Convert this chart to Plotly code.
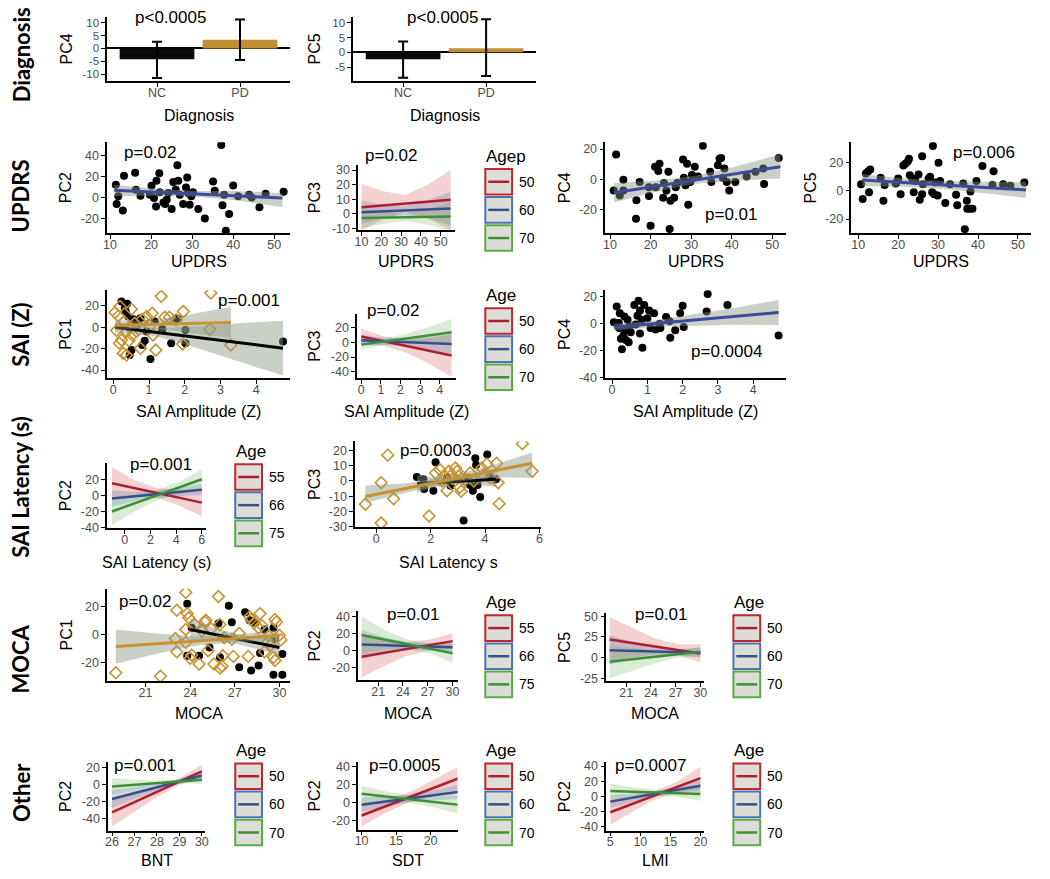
import plotly.graph_objects as go

# ============================ DATA ============================
# --- Row 1: Diagnosis (bar + error bars)
diag_groups = ["NC", "PD"]
diag_pc4_mean = [-4.2, 3.4]
diag_pc4_err_up = [6.8, 7.9]
diag_pc4_err_down = [7.3, 7.9]
diag_pc5_mean = [-2.3, 1.4]
diag_pc5_err_up = [6.0, 9.8]
diag_pc5_err_down = [6.3, 9.4]
diag_pc4_yticks = [-10, -5, 0, 5, 10]
diag_pc5_yticks = [-5, 0, 5, 10]

# --- Row 2: UPDRS
updrs_pc2_x = [11.4, 11.6, 12, 13.1, 13.4, 16.1, 16.3, 17.4, 19.7, 20.1, 20.7, 21.2, 21.3, 22, 22.1, 23,
               23.4, 23.8, 24.2, 25, 25.4, 26, 26.4, 26.6, 27, 27.8, 28.5, 28.8, 29, 29.4, 29.8, 30.2,
               31.5, 33.1, 35.1, 35.5, 37.1, 37.4, 37.8, 38.2, 39, 40, 41.2, 43.9, 44.5, 46.4, 47.9, 52.3]
updrs_pc2_y = [12, -6.3, 1, -12.4, 20.6, 23.5, 7.3, 1.6, 2.5, 11, -0.6, -8.6, 15.9, 23, 4.8, -4.8,
               -6.3, -2.2, 4.1, -11, 14.6, 7.3, 30.5, 15.9, 2.5, -6.3, 9.5, 19, 4.1, -7, 1, 5,
               -11, -20, 15.2, 6.3, 50, -7.6, 2.5, -31.7, -15.9, 11.4, 1, 2.5, 0, -9.5, 3.5, 5.4]
updrs_pc2_grid = [11, 21, 31, 41, 52]
updrs_pc2_fit = [6.7, 5.0, 3.3, 1.5, -0.6]
updrs_pc2_lo = [1, 1.5, 0.5, -3, -9.5]
updrs_pc2_hi = [12, 8.5, 6, 6, 4]

updrs_pc3_ages = ["50", "60", "70"]
updrs_pc3_grid = [10, 21, 32, 43, 55]
updrs_pc3_fit = [[4.5, 5.7, 6.9, 8.2, 9.5], [1, 1.6, 2.2, 2.9, 3.5], [-3, -2.75, -2.5, -2.25, -2]]
updrs_pc3_lo = [[-11.5, -4, 1, -3, -11], [-7, -3, -1, -3, -8], [-10, -7, -5, -7.5, -12]]
updrs_pc3_hi = [[20.5, 15.5, 12.8, 19.5, 30], [9, 6, 5.4, 9, 15], [4, 1.5, 0, 3, 8]]

updrs_pc4_x = [10.9, 11.5, 12.4, 13.3, 13.3, 16.4, 16.5, 17.3, 19.6, 19.6, 20, 21.1, 21.3, 21.9, 22.2,
               23.1, 23.3, 23.9, 24.4, 24.7, 24.9, 25.8, 26.2, 26.6, 28, 28.2, 28.6, 29, 29.3, 29.8,
               30.2, 30.9, 31.7, 32.9, 34.7, 35, 36.6, 37, 37.4, 37.8, 38.2, 38.8, 39.4, 40.9, 43.7,
               45.9, 47.8, 48, 51.6]
updrs_pc4_y = [-7.5, 16.3, -10.8, -0.4, -7.5, -26.2, -14, -1.9, -5.4, -11.2, -31, 8.2, -5.4, 5.4, 10.3,
               -12.3, -2.6, -7.5, 5, -33, -14.4, -12.3, -5.4, -2.6, 13.1, 1, -4.1, 10.3, -17, -1.9,
               2.8, 8.2, 1.7, 22.2, 5, -1.9, 9.2, 13.5, 14, 1, 7, -1.9, -7.5, -1.9, 1.7,
               5, 7, -3.2, 14]
updrs_pc4_grid = [11, 21, 31, 41, 52]
updrs_pc4_fit = [-9, -4.8, -0.6, 3.7, 8.3]
updrs_pc4_lo = [-15.5, -8.5, -3, -1, 0.5]
updrs_pc4_hi = [-2.5, -1, 2.2, 8.4, 16.5]

updrs_pc5_x = [10.7, 11.1, 11.9, 12.5, 12.7, 13, 15.6, 16.3, 16.6, 19.4, 19.8, 20, 20.6, 21.3, 21.8,
               22.4, 22.7, 22.9, 23.5, 23.9, 24.3, 25.1, 25.4, 26, 26, 26.2, 27.6, 28, 28.5, 28.7,
               29, 29.3, 29.9, 30.1, 30.5, 31.8, 33, 34.5, 34.8, 36.3, 36.7, 37.2, 37.3, 38, 38.6,
               38.1, 39.6, 41.1, 43.6, 43.9, 46.3, 48.1, 51.6]
updrs_pc5_y = [4.7, -5.8, 12.3, 14, -0.9, 15.3, 9.3, -7, 4.2, 5.3, 7, 8.8, -2.3, 18, 19.3,
               21, 22.8, 11.2, 8.8, -0.9, 7, 11.6, -6.3, -2.3, 24.7, 4.7, 8.8, 10, -0.9, 32,
               -2.3, 6, -3.3, 20, 7, -8.6, 4.7, -2.8, -10.2, 5.3, -27.2, -7, -12.6, -12.6, -12.6,
               -0.5, 7, 17.7, 4.2, 14, 4.7, 3.7, 6]
updrs_pc5_grid = [11, 21, 31, 41, 52]
updrs_pc5_fit = [7.7, 6, 4.3, 2.6, 0.7]
updrs_pc5_lo = [3.5, 3, 1.5, -1.5, -5]
updrs_pc5_hi = [12, 9, 7, 6.5, 6.5]
updrs_xticks = [10, 20, 30, 40, 50]

# --- Row 3: SAI amplitude (Z)
saiz_pc1_nc_x = [0.23, 0.32, 0.39, 0.35, 0.42, 0.46, 0.51, 0.56, 0.65, 0.69, 0.76, 0.81, 0.88, 0.93,
                 1.04, 1.16, 1.37, 1.62, 1.76, 1.81, 2.02, 2.02, 4.75]
saiz_pc1_nc_y = [24, 17.8, 21.9, 14.7, 10, -26, -21.3, 7.5, 0.6, 5.3, 8.4, -16.6, -12.5, -4,
                 -29.7, 5.3, -1.9, -15, 8.4, 7.5, -2.5, -15, -13.4]
saiz_pc1_pd_x = [0.05, 0.14, 0.19, 0.09, 0.17, 0.23, 0.3, 0.37, 0.44, 0.46, 0.51, 0.54, 0.6, 0.65,
                 0.76, 0.81, 0.93, 1.02, 1.09, 1.11, 1.19, 1.34, 1.44, 1.57, 1.76, 1.96, 1.94, 2.73,
                 2.7, 3.29, 0.28, 0.37]
saiz_pc1_pd_y = [13.8, 10.6, 19.4, -3.1, -15, -11.9, 5.3, -4, -12.5, 0, 16.9, -7.2, 3.8, -4,
                 -19.7, 7.5, 10, 1.3, 13.1, -7.2, -21.3, 28.8, 9.4, 9.4, 6.9, 14.7, -15.6, 31.9,
                 -1.9, -16.6, -24.4, -26]
saiz_pc1_nc_grid = [0.05, 1.2, 2.4, 3.6, 4.75]
saiz_pc1_nc_fit = [0, -4.7, -9.6, -14.5, -19.5]
saiz_pc1_nc_lo = [-5, -8.5, -20, -33, -45]
saiz_pc1_nc_hi = [5, -1, 1, 4, 6]
saiz_pc1_pd_grid = [0.05, 0.85, 1.65, 2.45, 3.29]
saiz_pc1_pd_fit = [1.8, 2.4, 3, 3.7, 4.4]
saiz_pc1_pd_lo = [-3, -1, -3, -7, -10]
saiz_pc1_pd_hi = [6.5, 5.8, 9, 14, 18.8]

saiz_pc3_ages = ["50", "60", "70"]
saiz_pc3_grid = [0, 1.15, 2.3, 3.45, 4.6]
saiz_pc3_fit = [[8, 1.5, -5, -11.5, -18], [3, 1.7, 0.5, -0.7, -2], [-3, 1.2, 5.5, 9.7, 14]]
saiz_pc3_lo = [[-3, -5, -14, -29, -47], [-4, -3, -5, -10, -16], [-10, -3, -1, -2, -4]]
saiz_pc3_hi = [[19, 8, 4, 6, 11], [10, 6.5, 6, 8.5, 12], [4, 5.5, 12, 21, 32]]

saiz_pc4_x = [0.05, 0.13, 0.19, 0.22, 0.2, 0.25, 0.28, 0.32, 0.35, 0.37, 0.39, 0.44, 0.47, 0.49, 0.53,
              0.63, 0.67, 0.72, 0.75, 0.79, 0.84, 0.79, 0.86, 0.91, 1.0, 1.05, 1.09, 1.19, 1.23, 1.35,
              1.37, 1.53, 1.63, 1.65, 1.79, 1.93, 2.0, 2.03, 2.68, 2.71, 3.27, 4.72]
saiz_pc4_y = [1, 12.7, 0.5, 7.8, -3.2, -11.2, -19, -8.8, 5.4, -4.9, -12.2, 2.9, -13.7, -2, -6.3,
              13.9, -0.7, 5.9, 17, 9.8, 2.9, -7.3, -17.8, 13.9, 4.1, 9.8, -3.2, 7.8, -4.4, 0,
              -3.2, 4.9, 1.7, -10.5, -4.9, 7.8, 13.2, -2.4, 9, 22, 13.9, -8.8]
saiz_pc4_grid = [0.05, 1.2, 2.35, 3.5, 4.72]
saiz_pc4_fit = [-2.6, 0.1, 2.8, 5.5, 8.3]
saiz_pc4_lo = [-5.2, -2.2, -1.5, -0.8, -1]
saiz_pc4_hi = [0, 2.4, 7.1, 11.8, 17.6]
saiz_xticks = [0, 1, 2, 3, 4]

# --- Row 4: SAI latency
sail_pc2_ages = ["55", "66", "75"]
sail_pc2_grid = [-1, 0.75, 2.5, 4.25, 6]
sail_pc2_fit = [[15, 9, 3, -3, -9], [-4, -1.25, 1.5, 4.25, 7], [-20, -10, 0, 10, 20]]
sail_pc2_lo = [[-5, -1, -3, -13, -26], [-14, -7, -3, -1, 0], [-37, -20, -6, 3, 8]]
sail_pc2_hi = [[35, 19, 9, 7, 8], [6, 4.5, 6, 9.5, 14], [-3, 0, 6, 17, 32]]

sail_pc3_pd_x = [-0.4, 0.18, 0.18, 0.42, 0.64, 1.94, 2.18, 2.34, 2.42, 2.5, 2.6, 2.67, 2.75, 2.82, 2.91,
                 2.97, 3.03, 3.07, 3.12, 3.27, 3.45, 3.58, 3.88, 3.94, 4.06, 4.18, 4.42, 4.48, 4.52,
                 5.37, 5.73]
sail_pc3_pd_y = [-15.3, -27.7, -1.1, 17, -11.7, -23, 5.3, 7.4, 0, 3.8, -6.4, 6.4, 3.8, 1.7, 8.5,
                 6.4, 3.2, -4.3, -6.8, 1.1, 5.3, 0, 8.5, 3.8, 11.1, 2.1, 11.7, -1.1, -14.9,
                 24.5, 6.4]
sail_pc3_nc_x = [1.49, 1.73, 1.76, 2.1, 2.18, 2.6, 2.73, 3.21, 3.39, 3.45, 3.55, 3.64, 3.67, 3.72,
                 3.82, 4.08, 4.18, 4.4]
sail_pc3_nc_y = [2.6, 1.1, -5.3, -6.4, 12.3, 2.1, -3.2, -26, 2.1, -2.6, -6.4, 14.9, 10.6, -2.6,
                 -10.6, 17.4, 3.2, 1.1]
sail_pc3_nc_grid = [1.5, 2.2, 2.95, 3.7, 4.42]
sail_pc3_nc_fit = [-1.7, -1, -0.3, 0.4, 1.1]
sail_pc3_nc_lo = [-7.5, -4, -2.5, -2.5, -4]
sail_pc3_nc_hi = [4, 2, 2, 3.3, 6.4]
sail_pc3_pd_grid = [-0.4, 1.13, 2.67, 4.2, 5.73]
sail_pc3_pd_fit = [-10.2, -4.7, 0.8, 6.2, 11.7]
sail_pc3_pd_lo = [-14.5, -7.5, -1.5, 2.5, 2.1]
sail_pc3_pd_hi = [-3, -1.5, 3.1, 10, 18.8]
sail_xticks = [0, 2, 4, 6]

# --- Row 5: MOCA
moca_pc1_pd_x = [19, 22, 23, 23.1, 23.1, 23.7, 23.7, 23.8, 23.9, 24.0, 24.1, 24.3, 24.6, 24.8, 25,
                 25.05, 25.2, 25.4, 25.6, 26, 26, 26.15, 26.2, 26.3, 26.8, 26.9, 27.3, 27.9, 28, 28.1,
                 28.3, 28.6, 28.7, 28.8, 29, 29.2, 29.3, 29.4, 29.6, 29.7, 29.8, 30.0, 30.1, 29.7,
                 23.7, 25.9]
moca_pc1_pd_y = [-27.5, -30, -3, 17.2, -12.5, 3.5, -5.9, 14.8, 11.8, -17.2, -14.8, 7, -21.2, 2.4, 8.7,
                 10.1, -11.8, 4, -21.2, 7, -24.2, -22.8, -15.3, -2.4, -3.5, -15.8, 0.7, -15.8, 12.5, 10.6,
                 8.2, 4.7, 14.8, 6.4, -12.5, -5.9, -1.2, -7.8, -16.5, 10.6, 8.7, -0.7, -4, -18.8,
                 29.9, 27]
moca_pc1_nc_x = [23.8, 23.8, 24.1, 24.6, 25.3, 25.9, 26, 26.6, 26.8, 27.3, 27.7, 28, 28.1, 28.2, 28.4,
                 28.6, 28.7, 29, 29.6, 29.6, 29.7, 30.2, 30.2]
moca_pc1_nc_y = [21.9, -15.3, 4.7, -15.3, -9.4, 7.8, -16.5, 20.5, 8.7, -23.5, 15.8, 10.1, -25.9, 8.7, 8.2,
                 -22.4, -13.4, 3.5, -28.9, 4.7, -3, -14.1, -28.9]
moca_pc1_nc_grid = [24, 25.5, 27, 28.5, 30]
moca_pc1_nc_fit = [3.5, 0.3, -3, -6.2, -9.4]
moca_pc1_nc_lo = [-4.7, -4.5, -6.5, -10.5, -15]
moca_pc1_nc_hi = [11.5, 5, 0.5, -2, -3.5]
moca_pc1_pd_grid = [19, 21.75, 24.5, 27.25, 30]
moca_pc1_pd_fit = [-8.7, -6.7, -4.7, -2.7, -0.7]
moca_pc1_pd_lo = [-21, -14, -8, -5.5, -4.5]
moca_pc1_pd_hi = [3.5, 0.5, -1.5, 0, 3.2]

moca_pc2_ages = ["55", "66", "75"]
moca_pc2_grid = [19, 21.75, 24.5, 27.25, 30]
moca_pc2_fit = [[-7, -2.5, 2, 6.5, 11], [7, 6.25, 5.5, 4.75, 4], [18, 12.75, 7.5, 2.25, -3]]
moca_pc2_lo = [[-31, -18, -6, 0, 2], [-10, -3, 1, 1, -3], [-3, 2, 2, -3, -14]]
moca_pc2_hi = [[17, 13, 10, 13, 20], [24, 15.5, 10, 8.5, 11], [40, 24, 13, 8, 8]]

moca_pc5_ages = ["50", "60", "70"]
moca_pc5_grid = [19, 21.75, 24.5, 27.25, 30]
moca_pc5_fit = [[22, 17.75, 13.5, 9.25, 5], [9, 8.25, 7.5, 6.75, 6], [-5, -2, 1, 4, 7]]
moca_pc5_lo = [[-5, 0, 4, 3, -6], [-8, -2, 2, 3, 0], [-25, -16, -7, 0, 1]]
moca_pc5_hi = [[49, 36, 23, 16, 16], [27, 19, 13, 10, 12], [15, 12, 9, 8, 13]]
moca_xticks = [21, 24, 27, 30]

# --- Row 6: Other
bnt_ages = ["50", "60", "70"]
bnt_grid = [26, 27, 28, 29, 30]
bnt_fit = [[-33, -20.75, -8.5, 3.75, 16], [-17, -10, -3, 4, 11], [-2, 0, 2, 4, 6]]
bnt_lo = [[-50, -32, -15, 0, 8], [-28, -17, -7, 1, 5], [-12, -6, -1, 2, 1]]
bnt_hi = [[-16, -9, -2, 8, 24], [-6, -3, 1, 7, 17], [8, 6, 5, 6, 11]]
bnt_xticks = [26, 27, 28, 29, 30]

sdt_ages = ["50", "60", "70"]
sdt_grid = [10, 13.5, 17, 20.5, 24]
sdt_fit = [[-14, -3.75, 6.5, 16.75, 27], [-2, 1.5, 5, 8.5, 12], [10, 7, 4, 1, -2]]
sdt_lo = [[-26, -11, 1, 8, 13], [-10, -4, 1, 3, 4], [0, 1, 0, -5, -12]]
sdt_hi = [[-2, 3.5, 12, 26, 40], [6, 7, 9, 14, 20], [19, 13, 8, 7, 8]]
sdt_xticks = [10, 15, 20]

lmi_ages = ["50", "60", "70"]
lmi_grid = [5, 8.75, 12.5, 16.25, 20]
lmi_fit = [[-21, -9.75, 1.5, 12.75, 24], [-7, -1.75, 3.5, 8.75, 14], [7, 6, 5, 4, 3]]
lmi_lo = [[-38, -20, -4, 5, 9], [-16, -7, 0, 4, 5], [-4, 0, 1, -1, -6]]
lmi_hi = [[-4, 0.5, 7, 20, 39], [2, 3.5, 7, 13, 22], [17, 12, 9, 9, 12]]
lmi_xticks = [5, 10, 15, 20]

p_values = ["p<0.0005", "p<0.0005", "p=0.02", "p=0.02", "p=0.01", "p=0.006", "p=0.001", "p=0.02",
            "p=0.0004", "p=0.001", "p=0.0003", "p=0.02", "p=0.01", "p=0.01", "p=0.001", "p=0.0005",
            "p=0.0007"]
row_labels = ["Diagnosis", "UPDRS", "SAI (Z)", "SAI Latency (s)", "MOCA", "Other"]

# ============================ STYLE ============================
W, H = 1050, 879
FONT = "Liberation Sans, Arial, Helvetica, sans-serif"
ROWFONT = "Lato, Open Sans, sans-serif"
GOLD = "#C8922F"
PD_BAR = "#C18E34"
REG_BLUE = "#3B4A9C"
RIBBON = "rgba(140,150,130,0.45)"
AGE_LINE = ["#B01E2E", "#34508C", "#3F8F38"]
AGE_FILL = ["rgba(205,50,50,0.22)", "rgba(60,90,160,0.22)", "rgba(90,170,70,0.22)"]
AGE_BORDER = ["#C0282D", "#4C74B2", "#5AAA45"]
KEY_FILL = "#DDDDD8"

fig = go.Figure()
layout_axes = {}


def tick_text(vals):
    return [str(v) for v in vals]


def base_axis(size=12.5):
    return dict(showline=True, linecolor="black", linewidth=1.7, ticks="outside", ticklen=4,
                tickwidth=1.4, tickcolor="black", showgrid=False, zeroline=False,
                tickfont=dict(family=FONT, size=size, color="#4D4D4D"), fixedrange=True)


def add_axes(n, box, xr, yr, xt, yt, xcat=None, ysize=12.5):
    x0, x1, y0, y1 = box
    s = "" if n == 1 else str(n)
    xa = base_axis()
    xa.update(domain=[x0 / W, x1 / W], range=xr, anchor="y" + s, ticklabelstandoff=-5)
    if xcat is not None:
        xa.update(type="category", categoryorder="array", categoryarray=xcat)
    else:
        xa.update(tickmode="array", tickvals=xt, ticktext=tick_text(xt))
    ya = base_axis(ysize)
    ya.update(domain=[1 - y1 / H, 1 - y0 / H], range=yr, anchor="x" + s,
              tickmode="array", tickvals=yt, ticktext=tick_text(yt))
    layout_axes["xaxis" + s] = xa
    layout_axes["yaxis" + s] = ya
    return ("x" + s, "y" + s)


def text(s, x, y, size, xanchor="center", angle=0, family=FONT, color="black"):
    fig.add_annotation(text=s, x=x / W, y=1 - y / H, xref="paper", yref="paper", showarrow=False,
                       font=dict(family=family, size=size, color=color), xanchor=xanchor,
                       yanchor="middle", textangle=angle)


def add_points(ax, xs, ys, kind):
    if kind == "dot":
        marker = dict(size=8, color="black")
    else:
        marker = dict(symbol="diamond-open", size=9, color=GOLD, line=dict(width=1.6, color=GOLD))
    fig.add_trace(go.Scatter(x=xs, y=ys, mode="markers", marker=marker, showlegend=False,
                             hoverinfo="skip", xaxis=ax[0], yaxis=ax[1]))


def add_fit(ax, grid, fit, lo, hi, color, fill=RIBBON):
    fig.add_trace(go.Scatter(x=grid + grid[::-1], y=hi + lo[::-1], fill="toself", fillcolor=fill,
                             mode="lines", line=dict(width=0), showlegend=False, hoverinfo="skip",
                             xaxis=ax[0], yaxis=ax[1]))
    fig.add_trace(go.Scatter(x=grid, y=fit, mode="lines", line=dict(color=color, width=3),
                             showlegend=False, hoverinfo="skip", xaxis=ax[0], yaxis=ax[1]))


def add_age(ax, grid, fits, los, his):
    for i in range(3):
        fig.add_trace(go.Scatter(x=grid + grid[::-1], y=his[i] + los[i][::-1], fill="toself",
                                 fillcolor=AGE_FILL[i], mode="lines", line=dict(width=0),
                                 showlegend=False, hoverinfo="skip", xaxis=ax[0], yaxis=ax[1]))
    for i in range(3):
        fig.add_trace(go.Scatter(x=grid, y=fits[i], mode="lines", line=dict(color=AGE_LINE[i], width=2.5),
                                 showlegend=False, hoverinfo="skip", xaxis=ax[0], yaxis=ax[1]))


shapes = []


def age_legend(x, top, title, labels):
    text(title, x - 1, top - 13, 17, xanchor="left")
    for i, lab in enumerate(labels):
        y0 = top + i * 28.5
        shapes.append(dict(type="rect", xref="paper", yref="paper", x0=x / W, x1=(x + 27) / W,
                           y0=1 - (y0 + 26) / H, y1=1 - y0 / H, fillcolor=KEY_FILL,
                           line=dict(color=AGE_BORDER[i], width=2)))
        shapes.append(dict(type="line", xref="paper", yref="paper", x0=(x + 3) / W, x1=(x + 24) / W,
                           y0=1 - (y0 + 13) / H, y1=1 - (y0 + 13) / H,
                           line=dict(color=AGE_LINE[i], width=2.5)))
        text(lab, x + 32, y0 + 13, 14, xanchor="left")


def titles(box, xtitle, ytitle, ytx, xty):
    x0, x1, y0, y1 = box
    text(xtitle, (x0 + x1) / 2, xty, 16)
    text(ytitle, ytx, (y0 + y1) / 2, 16, angle=-90)


# ============================ PANELS ============================
# A: PC4 by diagnosis
boxA = (104, 288, 13, 78)
axA = add_axes(1, boxA, [-0.6, 1.6], [-12.7, 12.3], None, diag_pc4_yticks, xcat=diag_groups, ysize=11.5)
fig.add_trace(go.Bar(x=diag_groups, y=diag_pc4_mean, width=0.9, marker=dict(color=["#0A0A0A", PD_BAR], line=dict(width=0)),
                     error_y=dict(type="data", symmetric=False, array=diag_pc4_err_up, arrayminus=diag_pc4_err_down,
                                  color="black", thickness=2, width=5),
                     showlegend=False, hoverinfo="skip", xaxis=axA[0], yaxis=axA[1]))
titles(boxA, "Diagnosis", "PC4", 63, 113)
text(p_values[0], 168, 14, 17)

# B: PC5 by diagnosis
boxB = (352, 536, 13, 78)
axB = add_axes(2, boxB, [-0.6, 1.6], [-9.7, 12], None, diag_pc5_yticks, xcat=diag_groups, ysize=11.5)
fig.add_trace(go.Bar(x=diag_groups, y=diag_pc5_mean, width=0.9, marker=dict(color=["#0A0A0A", PD_BAR], line=dict(width=0)),
                     error_y=dict(type="data", symmetric=False, array=diag_pc5_err_up, arrayminus=diag_pc5_err_down,
                                  color="black", thickness=2, width=5),
                     showlegend=False, hoverinfo="skip", xaxis=axB[0], yaxis=axB[1]))
titles(boxB, "Diagnosis", "PC5", 313, 113)
text(p_values[1], 442, 14, 17)

# C: PC2 vs UPDRS
boxC = (104, 288, 140, 232)
axC = add_axes(3, boxC, [9.3, 53.8], [-34, 52.5], updrs_xticks, [-20, 0, 20, 40])
add_points(axC, updrs_pc2_x, updrs_pc2_y, "dot")
add_fit(axC, updrs_pc2_grid, updrs_pc2_fit, updrs_pc2_lo, updrs_pc2_hi, REG_BLUE)
titles(boxC, "UPDRS", "PC2", 62, 261)
text(p_values[2], 147, 150, 17)

# D: PC3 vs UPDRS by age
boxD = (357, 454, 163, 229)
axD = add_axes(4, boxD, [8.35, 57], [-11.3, 33.5], updrs_xticks, [-10, 0, 10, 20, 30])
add_age(axD, updrs_pc3_grid, updrs_pc3_fit, updrs_pc3_lo, updrs_pc3_hi)
titles(boxD, "UPDRS", "PC3", 313, 261)
text(p_values[3], 390, 153, 17)
age_legend(485, 167, "Agep", updrs_pc3_ages)

# E: PC4 vs UPDRS
boxE = (606, 788, 140, 232)
axE = add_axes(5, boxE, [8.85, 53.4], [-35.8, 24.5], updrs_xticks, [-20, 0, 20])
add_points(axE, updrs_pc4_x, updrs_pc4_y, "dot")
add_fit(axE, updrs_pc4_grid, updrs_pc4_fit, updrs_pc4_lo, updrs_pc4_hi, REG_BLUE)
titles(boxE, "UPDRS", "PC4", 565, 261)
text(p_values[4], 733, 213, 17)

# F: PC5 vs UPDRS
boxF = (854, 1035, 140, 232)
axF = add_axes(6, boxF, [8.3, 53.3], [-30, 34.6], updrs_xticks, [-20, 0, 20])
add_points(axF, updrs_pc5_x, updrs_pc5_y, "dot")
add_fit(axF, updrs_pc5_grid, updrs_pc5_fit, updrs_pc5_lo, updrs_pc5_hi, REG_BLUE)
titles(boxF, "UPDRS", "PC5", 813, 261)
text(p_values[5], 988, 150, 17)

# G: PC1 vs SAI amplitude
boxG = (104, 288, 290, 379)
axG = add_axes(7, boxG, [-0.17, 4.94], [-47.6, 34.4], saiz_xticks, [-40, -20, 0, 20])
add_points(axG, saiz_pc1_nc_x, saiz_pc1_nc_y, "dot")
add_points(axG, saiz_pc1_pd_x, saiz_pc1_pd_y, "diamond")
add_fit(axG, saiz_pc1_nc_grid, saiz_pc1_nc_fit, saiz_pc1_nc_lo, saiz_pc1_nc_hi, "black")
add_fit(axG, saiz_pc1_pd_grid, saiz_pc1_pd_fit, saiz_pc1_pd_lo, saiz_pc1_pd_hi, GOLD)
titles(boxG, "SAI Amplitude (Z)", "PC1", 62, 413)
text(p_values[6], 247, 300, 17)

# H: PC3 vs SAI amplitude by age
boxH = (356, 455, 314, 379)
axH = add_axes(8, boxH, [-0.2, 4.8], [-49, 38.8], saiz_xticks, [-40, -20, 0, 20])
add_age(axH, saiz_pc3_grid, saiz_pc3_fit, saiz_pc3_lo, saiz_pc3_hi)
titles(boxH, "SAI Amplitude (Z)", "PC3", 313, 413)
text(p_values[7], 392, 310, 17)
age_legend(485, 308, "Age", saiz_pc3_ages)

# I: PC4 vs SAI amplitude
boxI = (606, 788, 290, 379)
axI = add_axes(9, boxI, [-0.19, 4.93], [-40.5, 24.7], saiz_xticks, [-40, -20, 0, 20])
add_points(axI, saiz_pc4_x, saiz_pc4_y, "dot")
add_fit(axI, saiz_pc4_grid, saiz_pc4_fit, saiz_pc4_lo, saiz_pc4_hi, REG_BLUE)
titles(boxI, "SAI Amplitude (Z)", "PC4", 565, 413)
text(p_values[8], 728, 352, 17)

# J: PC2 vs SAI latency by age
boxJ = (104, 204, 465, 531)
axJ = add_axes(10, boxJ, [-1.37, 6.36], [-41, 40], sail_xticks, [-40, -20, 0, 20])
add_age(axJ, sail_pc2_grid, sail_pc2_fit, sail_pc2_lo, sail_pc2_hi)
titles(boxJ, "SAI Latency (s)", "PC2", 62, 566)
text(p_values[9], 158, 466, 17)
age_legend(233, 466, "Age", sail_pc2_ages)

# K: PC3 vs SAI latency
boxK = (354, 541, 443, 530)
axK = add_axes(11, boxK, [-0.77, 6.05], [-30.5, 26], sail_xticks, [-30, -20, -10, 0, 10, 20])
add_points(axK, sail_pc3_nc_x, sail_pc3_nc_y, "dot")
add_points(axK, sail_pc3_pd_x, sail_pc3_pd_y, "diamond")
add_fit(axK, sail_pc3_nc_grid, sail_pc3_nc_fit, sail_pc3_nc_lo, sail_pc3_nc_hi, "black")
add_fit(axK, sail_pc3_pd_grid, sail_pc3_pd_fit, sail_pc3_pd_lo, sail_pc3_pd_hi, GOLD)
titles(boxK, "SAI Latency s", "PC3", 313, 566)
text(p_values[10], 435, 452, 17)

# L: PC1 vs MOCA
boxL = (104, 288, 592, 686)
axL = add_axes(12, boxL, [18.42, 30.7], [-33.7, 32.7], moca_xticks, [-20, 0, 20])
add_points(axL, moca_pc1_nc_x, moca_pc1_nc_y, "dot")
add_points(axL, moca_pc1_pd_x, moca_pc1_pd_y, "diamond")
add_fit(axL, moca_pc1_nc_grid, moca_pc1_nc_fit, moca_pc1_nc_lo, moca_pc1_nc_hi, "black")
add_fit(axL, moca_pc1_pd_grid, moca_pc1_pd_fit, moca_pc1_pd_lo, moca_pc1_pd_hi, GOLD)
titles(boxL, "MOCA", "PC1", 62, 718)
text(p_values[11], 142, 605, 17)

# M: PC2 vs MOCA by age
boxM = (357, 457, 615, 685)
axM = add_axes(13, boxM, [18.6, 30.6], [-34.6, 45.6], moca_xticks, [-20, 0, 20, 40])
add_age(axM, moca_pc2_grid, moca_pc2_fit, moca_pc2_lo, moca_pc2_hi)
titles(boxM, "MOCA", "PC2", 313, 718)
text(p_values[12], 412, 618, 17)
age_legend(485, 619, "Age", moca_pc2_ages)

# N: PC5 vs MOCA by age
boxN = (607, 705, 617, 686)
axN = add_axes(14, boxN, [18.6, 30.4], [-28.8, 53.6], moca_xticks, [-25, 0, 25, 50])
add_age(axN, moca_pc5_grid, moca_pc5_fit, moca_pc5_lo, moca_pc5_hi)
titles(boxN, "MOCA", "PC5", 565, 718)
text(p_values[13], 662, 618, 17)
age_legend(735, 619, "Age", moca_pc5_ages)

# O: PC2 vs BNT by age
boxO = (105, 203, 768, 837)
axO = add_axes(15, boxO, [25.83, 30.16], [-54.8, 26.7], bnt_xticks, [-40, -20, 0, 20])
add_age(axO, bnt_grid, bnt_fit, bnt_lo, bnt_hi)
titles(boxO, "BNT", "PC2", 62, 867)
text(p_values[14], 142, 771, 17)
age_legend(233, 769, "Age", bnt_ages)

# P: PC2 vs SDT by age
boxP = (357, 457, 768, 836)
axP = add_axes(16, boxP, [9.52, 23.9], [-29.5, 44.8], sdt_xticks, [-20, 0, 20, 40])
add_age(axP, sdt_grid, sdt_fit, sdt_lo, sdt_hi)
titles(boxP, "SDT", "PC2", 313, 867)
text(p_values[15], 404, 771, 17)
age_legend(485, 769, "Age", sdt_ages)

# Q: PC2 vs LMI by age
boxQ = (607, 705, 768, 837)
axQ = add_axes(17, boxQ, [4.34, 20.54], [-45.2, 44.8], lmi_xticks, [-40, -20, 0, 20, 40])
add_age(axQ, lmi_grid, lmi_fit, lmi_lo, lmi_hi)
titles(boxQ, "LMI", "PC2", 565, 867)
text(p_values[16], 651, 771, 17)
age_legend(735, 769, "Age", lmi_ages)

# Row labels
row_centers = [51, 194, 335, 489, 663, 798]
for lab, yc in zip(row_labels, row_centers):
    text("<b>%s</b>" % lab, 17, yc, 22, angle=-90, family=ROWFONT)

# zero reference line for the bar panels
layout_axes["yaxis"].update(zeroline=True, zerolinecolor="black", zerolinewidth=2)
layout_axes["yaxis2"].update(zeroline=True, zerolinecolor="black", zerolinewidth=2)

fig.update_layout(width=W, height=H, margin=dict(l=0, r=0, t=0, b=0), paper_bgcolor="white",
                  plot_bgcolor="white", showlegend=False, shapes=shapes, **layout_axes)

fig.write_html("out.html", config={"displayModeBar": False},
               post_script="document.body.style.margin='0px';")
